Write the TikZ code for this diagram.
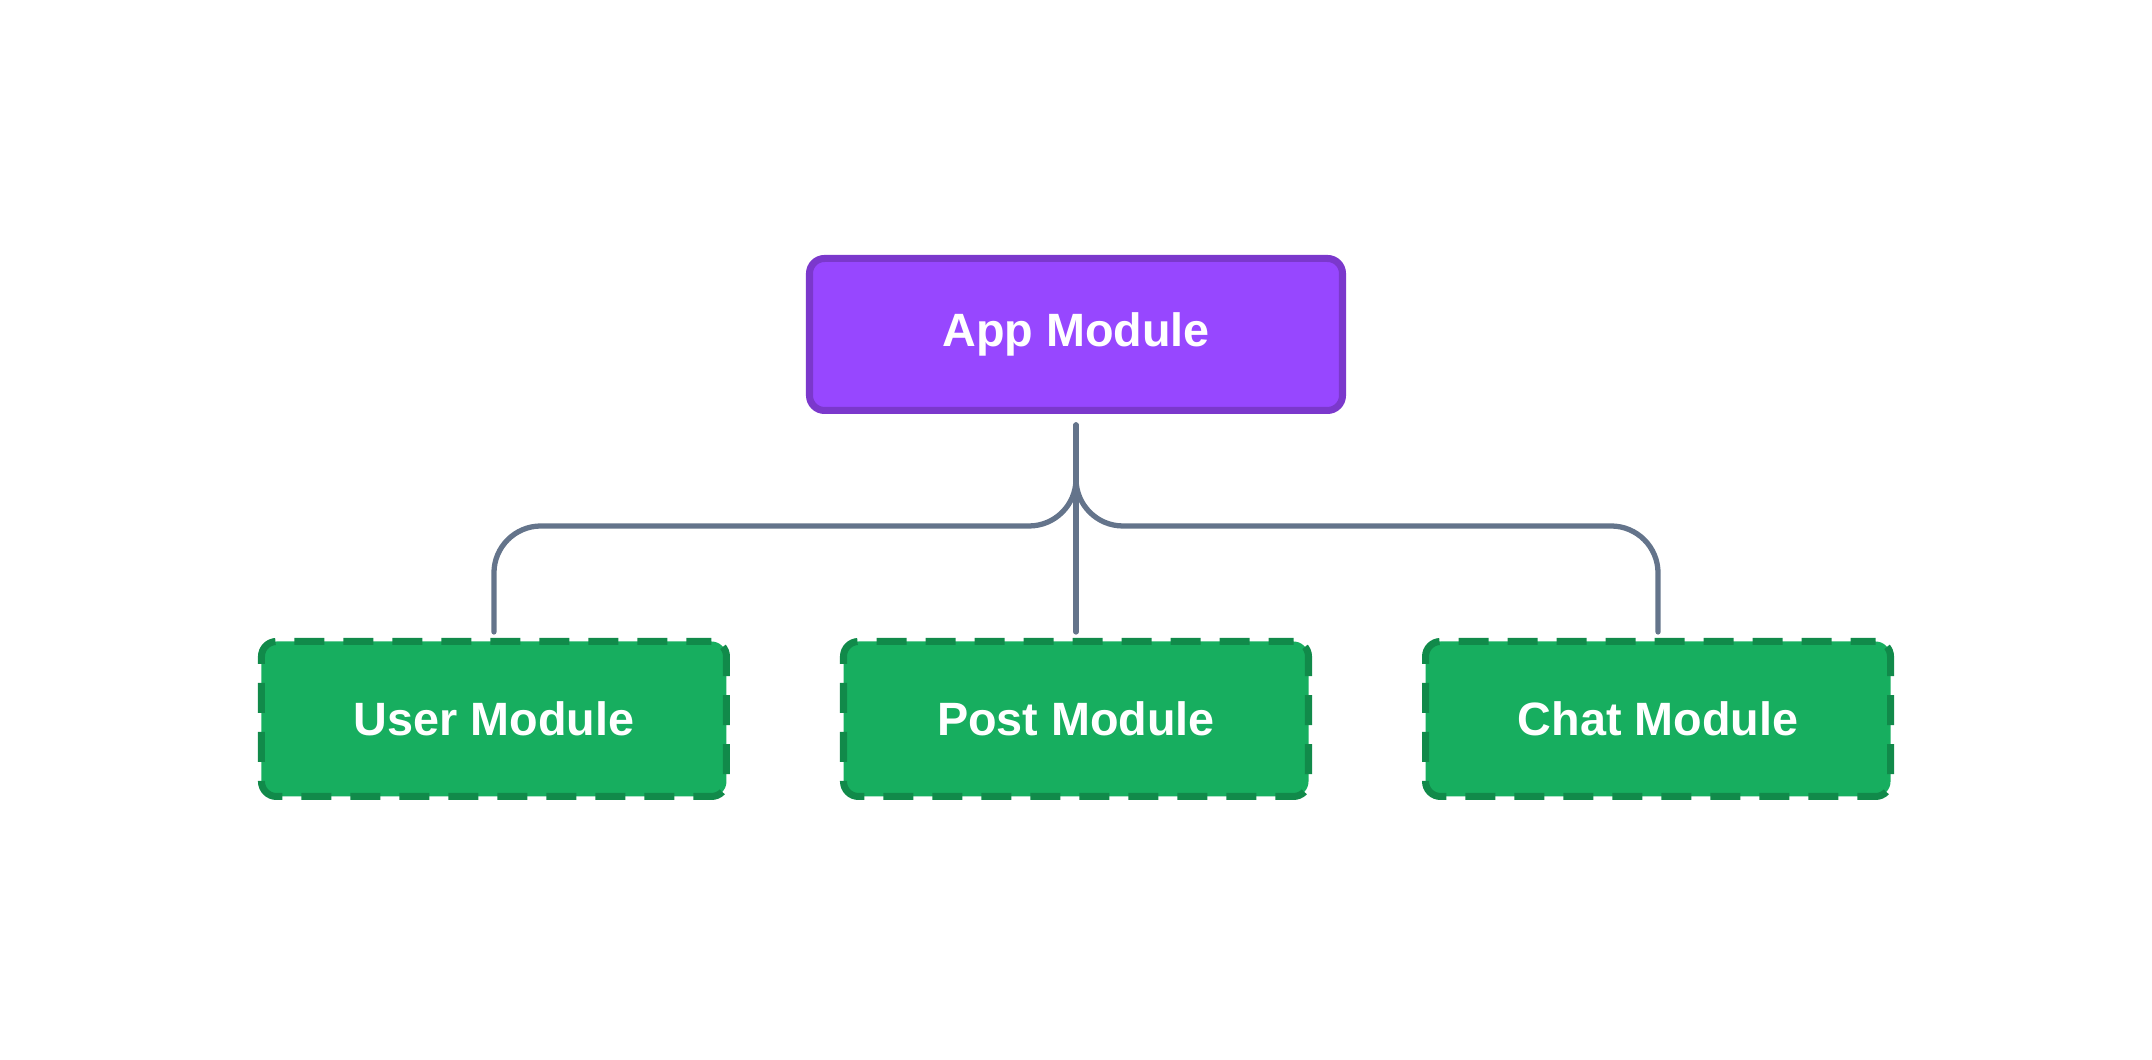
\documentclass[tikz,border=0pt]{standalone}
\usepackage{fontspec}
\setmainfont{Liberation Sans}
\usetikzlibrary{positioning}
\definecolor{appfill}{HTML}{9747FF}
\definecolor{appline}{HTML}{7B38CC}
\definecolor{modfill}{HTML}{17AE5F}
\definecolor{modline}{HTML}{118A4A}
\definecolor{wire}{HTML}{64748B}
\tikzset{
  >=latex,
}
\tikzstyle{every node}=[font=\fontsize{13.3}{15}\selectfont\bfseries]
\tikzstyle{root}=[draw=appline,fill=appfill,text=white,line width=2pt,
  rounded corners=1.5mm,minimum width=5.33cm,minimum height=1.52cm]
\tikzstyle{module}=[draw=modline,fill=modfill,text=white,line width=2pt,
  rounded corners=1.5mm,minimum width=4.65cm,minimum height=1.55cm,
  dash pattern=on 0.3cm off 0.19cm,dash phase=0.05cm]
\tikzstyle{link}=[wire,line width=1.5pt,line cap=round,rounded corners=4.7mm]

\begin{document}
\begin{tikzpicture}
    \useasboundingbox (0,0) rectangle (21.52,10.6);
    \node[root] (app) at (10.76,7.255) {App Module};
    \node[module] (post) at (10.76,3.41) {Post Module};
    \node[module,left=1.1cm of post] (user) {User Module};
    \node[module,right=1.1cm of post] (chat) {Chat Module};
    \coordinate (top) at ([yshift=-1.1mm]app.south);
    \coordinate (bus) at (0,5.34);
    % branches
    \draw[link] (top) -- ([yshift=0.6mm]post.north);
    \draw[link] (top) |- (user.north |- bus) -- ([yshift=0.6mm]user.north);
    \draw[link] (top) |- (chat.north |- bus) -- ([yshift=0.6mm]chat.north);
\end{tikzpicture}
\end{document}
